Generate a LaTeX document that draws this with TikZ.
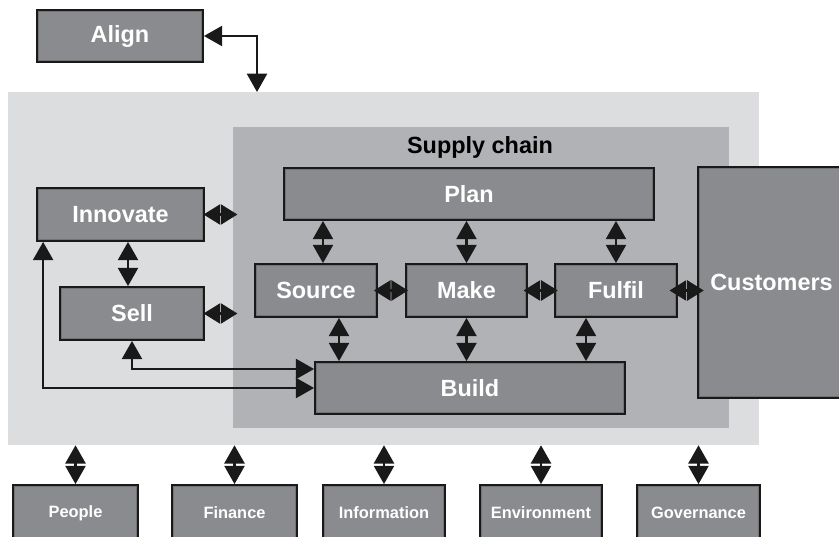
\documentclass[tikz,border=0pt]{standalone}
\usepackage{fontspec}
\setmainfont{Liberation Sans}
\usetikzlibrary{arrows.meta}
\definecolor{boxgray}{RGB}{138,139,142}
\definecolor{orggray}{RGB}{220,221,223}
\definecolor{chaingray}{RGB}{177,178,181}
\begin{document}
\begin{tikzpicture}[x=0.03cm, y=-0.03cm,
  box/.style={draw=black!90, line width=1.5pt, fill=boxgray, text=white, inner sep=0pt,
    font=\fontsize{20}{24}\selectfont\bfseries,
    path picture={\draw[black!55, line width=4pt] (path picture bounding box.south west) rectangle (path picture bounding box.north east);}},
  smallbox/.style={box, font=\fontsize{14}{16}\selectfont\bfseries},
  link/.style={{Triangle[length=0.55cm,width=0.6cm]}-{Triangle[length=0.55cm,width=0.6cm]}, line width=2.2pt, black!90},
  shortlink/.style={{Triangle[length=0.5cm,width=0.6cm]}-{Triangle[length=0.5cm,width=0.6cm]}, line width=2.2pt, black!90}]
\useasboundingbox (0,0) rectangle (839,537);
\node (org) [fill=orggray, minimum width=22.53cm, minimum height=10.59cm, inner sep=0pt] at (383.5,268.5) {};
\node (chain) [fill=chaingray, minimum width=14.88cm, minimum height=9.03cm, inner sep=0pt] at (481,277.5) {};
\node (chainlabel) [font=\fontsize{20}{24}\selectfont\bfseries] at (480,147) {Supply chain};
\node (align) [box, minimum width=4.98cm, minimum height=1.56cm] at (120,36) {Align};
\node (innovate) [box, minimum width=5.01cm, minimum height=1.59cm] at (120.5,214.5) {Innovate};
\node (sell) [box, minimum width=4.32cm, minimum height=1.59cm] at (132,313.5) {Sell};
\node (plan) [box, minimum width=11.1cm, minimum height=1.56cm] at (469,194) {Plan};
\node (source) [box, minimum width=3.66cm, minimum height=1.59cm] at (316,290.5) {Source};
\node (make) [box, minimum width=3.63cm, minimum height=1.59cm] at (466.5,290.5) {Make};
\node (fulfil) [box, minimum width=3.66cm, minimum height=1.59cm] at (616,290.5) {Fulfil};
\node (build) [box, minimum width=9.3cm, minimum height=1.56cm] at (470,388) {Build};
\node (customers) [box, minimum width=4.41cm, minimum height=6.93cm] at (771.5,282.5) {Customers};
\node (people) [smallbox, minimum width=3.75cm, minimum height=1.68cm] at (75.5,513) {People};
\node (finance) [smallbox, minimum width=3.75cm, minimum height=1.68cm] at (234.5,513) {Finance};
\node (information) [smallbox, minimum width=3.66cm, minimum height=1.68cm] at (384,513) {Information};
\node (environment) [smallbox, minimum width=3.66cm, minimum height=1.68cm] at (541,513) {Environment};
\node (governance) [smallbox, minimum width=3.69cm, minimum height=1.68cm] at (698.5,513) {Governance};
\coordinate (orgtop) at (257,92);
\draw[link] (align.east) -| (orgtop);
\draw[shortlink, shorten <=-0.04cm, shorten >=-0.14cm] (innovate.east) -- (innovate.east -| chain.west);
\draw[shortlink, shorten <=-0.04cm, shorten >=-0.14cm] (sell.east) -- (sell.east -| chain.west);
\draw[link] ([xshift=-0.12cm]sell.north) -- ([xshift=-0.12cm]sell.north |- innovate.south);
\draw[link] ([xshift=0.21cm]source.north) -- ([xshift=0.21cm]source.north |- plan.south);
\draw[link] (make.north) -- (make.north |- plan.south);
\draw[link] (fulfil.north) -- (fulfil.north |- plan.south);
\draw[shortlink, shorten <=-0.12cm, shorten >=-0.09cm] (source.east) -- (make.west);
\draw[shortlink, shorten <=-0.13cm, shorten >=-0.11cm] (make.east) -- (fulfil.west);
\draw[shortlink, shorten <=-0.25cm, shorten >=-0.2cm] (fulfil.east) -- (fulfil.east -| customers.west);
\draw[link] ([xshift=0.69cm]source.south) -- ([xshift=0.69cm]source.south |- build.north);
\draw[link] (make.south) -- (make.south |- build.north);
\draw[link] ([xshift=-0.9cm]fulfil.south) -- ([xshift=-0.9cm]fulfil.south |- build.north);
\draw[link] (sell.south) |- ([yshift=0.57cm]build.west);
\draw[link] ([xshift=0.21cm]innovate.south west) |- (build.west);
\draw[link] (people.north) -- (people.north |- org.south);
\draw[link] (finance.north) -- (finance.north |- org.south);
\draw[link] (information.north) -- (information.north |- org.south);
\draw[link] (environment.north) -- (environment.north |- org.south);
\draw[link] (governance.north) -- (governance.north |- org.south);
\end{tikzpicture}
\end{document}
